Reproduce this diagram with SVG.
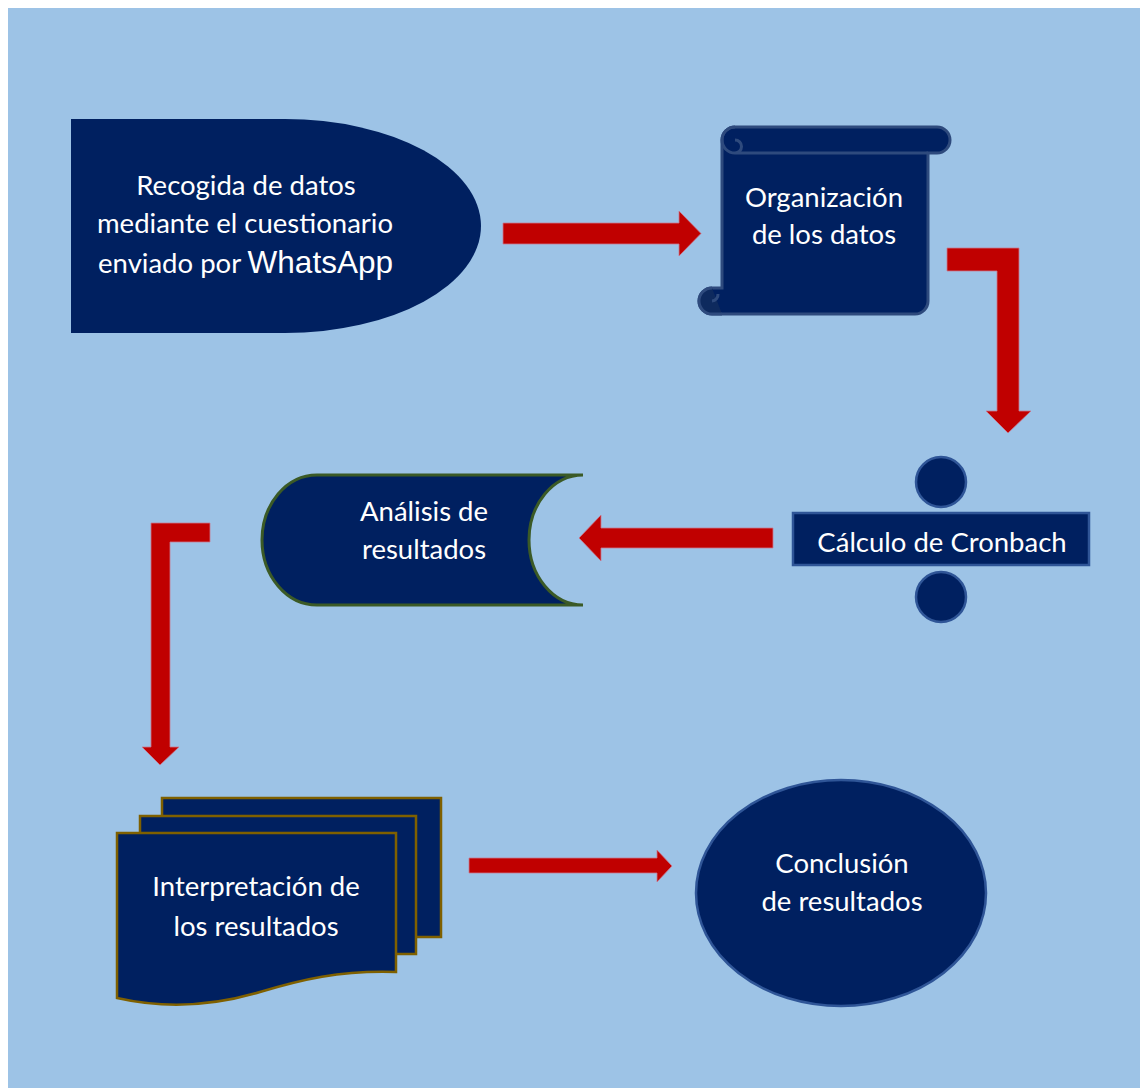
<svg xmlns="http://www.w3.org/2000/svg" width="1140" height="1088" viewBox="0 0 1140 1088">
<defs>
<style>
.bg{fill:#9DC3E6}
.navy{fill:#002060}
.arrow{fill:#C00000;stroke:#C8788E;stroke-width:1;stroke-opacity:0.8}
.t{font-family:Lato,"Noto Sans",sans-serif;fill:#FFFFFF;text-anchor:middle;font-size:27.5px}
.doc{fill:#002060;stroke:#7F6000;stroke-width:2.5}
.blue{fill:#002060;stroke:#2F5597;stroke-width:2.5}
</style>
</defs>
<rect x="0" y="0" width="1140" height="1088" fill="#FFFFFF"/>
<rect class="bg" x="8" y="8" width="1132" height="1080"/>

<g id="connectors">
<path class="arrow" d="M503,223 H679 V211 L701,233.5 L679,256 V244 H503 Z"/>
<path class="arrow" d="M947,248 H1019 V411 H1031 L1008,433 L986,411 H997 V271 H947 Z"/>
<path class="arrow" d="M773,528 H601 V515 L579,538 L601,561 V548 H773 Z"/>
<path class="arrow" d="M210,523 H151 V747 H142 L160,765 L179,747 H170 V542 H210 Z"/>
<path class="arrow" d="M469,858 H657 V850 L672,866 L657,882 V873 H469 Z"/>
</g>

<g id="node-recogida">
<path class="navy" d="M71,119 H285 A196,107 0 0 1 285,333 H71 Z"/>
<text class="t" x="246" y="195">Recogida de datos</text>
<text class="t" x="245" y="233">mediante el cuestionario</text>
<text class="t" x="245.5" y="273">enviado por <tspan font-family="'Liberation Sans',Arial,sans-serif" font-size="31.5">WhatsApp</tspan></text>
</g>

<g id="node-organizacion">
<path fill="#002060" stroke="#2E4A7D" stroke-width="3" d="M722,140 A13,13 0 0 1 735,127 H937 A13,13 0 0 1 937,153 H928 V301 A13,13 0 0 1 915,314 H712 A13,13 0 0 1 712,288 H722 Z"/>
<path fill="none" stroke="#2E4A7D" stroke-width="3" d="M735,153 H928 M735,153 A13,13 0 0 1 735,127 M735,140 A6.5,6.5 0 0 1 735,153"/>
<path fill="#0E2A5E" stroke="#2E4A7D" stroke-width="3" d="M712,288 A13,13 0 0 0 712,314 H722 M712,301 A6.5,6.5 0 0 0 718,294"/>
<text class="t" x="824" y="207" font-size="28">Organización</text>
<text class="t" x="824" y="244" font-size="28">de los datos</text>
</g>

<g id="node-cronbach">
<circle class="blue" cx="941" cy="482" r="25"/>
<rect class="blue" x="793" y="513" width="296" height="52"/>
<circle class="blue" cx="941" cy="597" r="25"/>
<text class="t" x="942" y="552">Cálculo de Cronbach</text>
</g>

<g id="node-analisis">
<path fill="#002060" stroke="#3B5A26" stroke-width="3" d="M583,475 H317 A55,65 0 0 0 317,605 H583 A54,65 0 0 1 583,475 Z"/>
<text class="t" x="424" y="521">Análisis de</text>
<text class="t" x="424" y="559">resultados</text>
</g>

<g id="node-interpretacion">
<rect class="doc" x="162" y="798" width="279" height="139"/>
<rect class="doc" x="140" y="816" width="276" height="138"/>
<path class="doc" d="M117,833 H396 V972 C340,970 300,980 260,992 C220,1004 170,1010 117,998 Z"/>
<text class="t" x="256" y="896">Interpretación de</text>
<text class="t" x="256" y="936">los resultados</text>
</g>

<g id="node-conclusion">
<ellipse class="blue" cx="841" cy="893" rx="145" ry="113"/>
<text class="t" x="842" y="873">Conclusión</text>
<text class="t" x="842" y="911">de resultados</text>
</g>
</svg>
